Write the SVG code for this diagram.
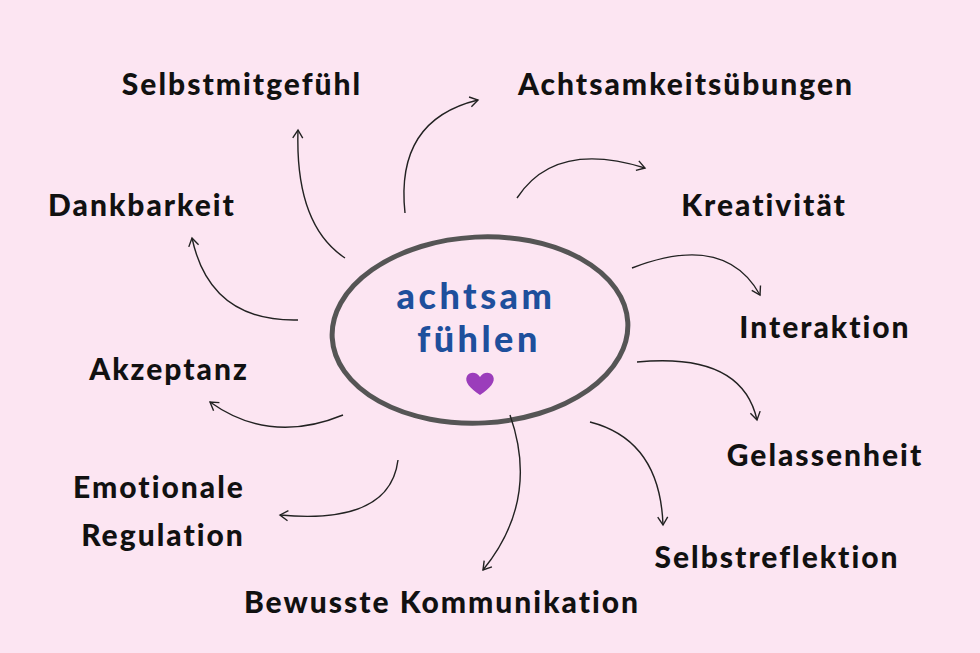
<svg xmlns="http://www.w3.org/2000/svg" width="980" height="653" viewBox="0 0 980 653">
<style>
.lbl{font-family:"Lato","Liberation Sans",sans-serif;font-weight:900;font-size:30px;letter-spacing:2px;fill:#111;text-anchor:middle}
.ctr{font-family:"Lato","Liberation Sans",sans-serif;font-weight:900;font-size:36px;letter-spacing:3.5px;fill:#1e4f9c;text-anchor:middle}
.c{fill:none;stroke:#222;stroke-width:1.4;marker-end:url(#ah)}
</style>
<defs>
<marker id="ah" markerWidth="14" markerHeight="14" refX="10" refY="7" orient="auto" markerUnits="userSpaceOnUse">
<path d="M2,2 L10,7 L2,12" fill="none" stroke="#222" stroke-width="1.4"/>
</marker>
</defs>
<rect width="980" height="653" fill="#fce5f2"/>
<g id="center">
<ellipse cx="480" cy="330" rx="148" ry="93" fill="none" stroke="#555" stroke-width="5" transform="rotate(-3 480 330)"/>
<text class="ctr" x="476" y="309">achtsam</text>
<text class="ctr" x="479" y="352">fühlen</text>
<path d="M480,395 C470,388 464,382 467,376 C470,371 477,372 480,377 C483,372 490,371 493,376 C496,382 490,388 480,395 Z" fill="#9b3dbb"/>
</g>
<g id="connectors">
<path class="c" d="M345,258 Q295,225 298,130"/>
<path class="c" d="M405,213 Q395,120 478,100"/>
<path class="c" d="M517,198 Q555,140 645,168"/>
<path class="c" d="M632,268 Q725,232 760,295"/>
<path class="c" d="M637,362 Q742,352 757,420"/>
<path class="c" d="M590,422 Q660,440 663,525"/>
<path class="c" d="M510,415 Q540,500 483,570"/>
<path class="c" d="M398,460 Q390,525 280,515"/>
<path class="c" d="M343,415 Q270,445 210,402"/>
<path class="c" d="M298,320 Q210,322 192,238"/>
</g>
<g id="n1"><text class="lbl" x="242" y="95">Selbstmitgefühl</text></g>
<g id="n2"><text class="lbl" x="686" y="95">Achtsamkeitsübungen</text></g>
<g id="n3"><text class="lbl" x="142" y="216">Dankbarkeit</text></g>
<g id="n4"><text class="lbl" x="764" y="216">Kreativität</text></g>
<g id="n5"><text class="lbl" x="825" y="338">Interaktion</text></g>
<g id="n6"><text class="lbl" x="169" y="380">Akzeptanz</text></g>
<g id="n7"><text class="lbl" x="825" y="466">Gelassenheit</text></g>
<g id="n8"><text class="lbl" x="159" y="498">Emotionale</text><text class="lbl" x="163" y="546">Regulation</text></g>
<g id="n9"><text class="lbl" x="777" y="568">Selbstreflektion</text></g>
<g id="n10"><text class="lbl" x="442" y="613">Bewusste Kommunikation</text></g>
</svg>
